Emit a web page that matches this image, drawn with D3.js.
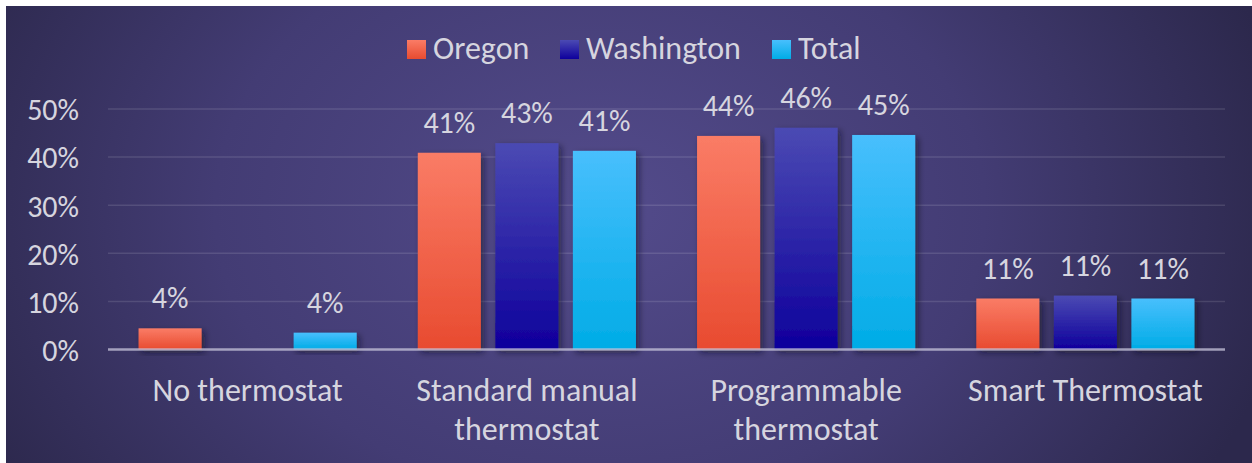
<!DOCTYPE html>
<html>
<head>
<meta charset="utf-8">
<script src="https://cdn.jsdelivr.net/npm/d3@7"></script>
<style>
  html, body { margin: 0; padding: 0; background: #ffffff; }
  svg { display: block; }
  text { font-family: Carlito, Lato, "Open Sans", sans-serif; fill: #d6d5df; }
</style>
</head>
<body>
<svg id="chart" width="1252" height="463"></svg>
<script>
// Thermostat type share by state (percent of homes)
const categories = ["No thermostat", "Standard manual thermostat", "Programmable thermostat", "Smart Thermostat"];
const categoryLines = [["No thermostat"], ["Standard manual", "thermostat"], ["Programmable", "thermostat"], ["Smart Thermostat"]];
const seriesNames = ["Oregon", "Washington", "Total"];
const oregon = [4.4, 40.9, 44.4, 10.6];
const washington = [null, 42.9, 46.1, 11.2];
const total = [3.5, 41.3, 44.6, 10.6];
const yTicks = [0, 10, 20, 30, 40, 50];

const seriesValues = [oregon, washington, total];
const gradStops = {
  Oregon: ["#fa7c66", "#e84b30"],
  Washington: ["#4b4ab3", "#0e009c"],
  Total: ["#48bffd", "#00ace6"]
};

const W = 1252, H = 463;
const svg = d3.select("#chart");
const defs = svg.append("defs");

// background radial glow
const bg = defs.append("radialGradient").attr("id", "bg")
  .attr("gradientUnits", "userSpaceOnUse")
  .attr("cx", 600).attr("cy", 210).attr("r", 700)
  .attr("gradientTransform", "translate(600,210) scale(1,0.75) translate(-600,-210)");
bg.append("stop").attr("offset", 0).attr("stop-color", "#534b8b");
bg.append("stop").attr("offset", 0.55).attr("stop-color", "#433c74");
bg.append("stop").attr("offset", 1).attr("stop-color", "#2c284c");

seriesNames.forEach((s, i) => {
  const g = defs.append("linearGradient").attr("id", "g" + i)
    .attr("x1", 0).attr("y1", 0).attr("x2", 0).attr("y2", 1);
  g.append("stop").attr("offset", 0).attr("stop-color", gradStops[s][0]);
  g.append("stop").attr("offset", 1).attr("stop-color", gradStops[s][1]);
});

const shadow = defs.append("filter").attr("id", "shadow")
  .attr("x", "-20%").attr("y", "-20%").attr("width", "150%").attr("height", "150%");
shadow.append("feDropShadow").attr("dx", 3).attr("dy", 3)
  .attr("stdDeviation", 3).attr("flood-color", "#0a0820").attr("flood-opacity", 0.55);

svg.append("rect").attr("x", 6).attr("y", 6).attr("width", W - 6).attr("height", H - 6)
  .attr("fill", "url(#bg)");

const plot = { left: 108, right: 1225, top: 109, bottom: 349.5 };

const x0 = d3.scaleBand().domain(categories).range([plot.left, plot.right]).padding(0);
const x1 = d3.scaleBand().domain(seriesNames).range([0, x0.bandwidth()])
  .paddingInner(0.187).paddingOuter(0.394);
const y = d3.scaleLinear().domain([0, 50]).range([plot.bottom, plot.top]);

// gridlines
svg.append("g").selectAll("line").data(yTicks.filter(t => t > 0)).join("line")
  .attr("x1", plot.left).attr("x2", plot.right)
  .attr("y1", d => y(d)).attr("y2", d => y(d))
  .attr("stroke", "#ffffff").attr("stroke-opacity", 0.12).attr("stroke-width", 1.5);

// y axis labels
const yAxis = d3.axisLeft(y).tickValues(yTicks).tickFormat(d => d + "%").tickSize(0).tickPadding(0);
const ya = svg.append("g").attr("transform", `translate(79,0)`).call(yAxis);
ya.select(".domain").remove();
ya.selectAll("text").attr("font-size", 30).attr("fill", "#d6d5df")
  .attr("font-family", "Carlito, Lato, 'Open Sans', sans-serif").attr("dy", "0.36em");

// bars
const groups = svg.append("g").selectAll("g").data(categories).join("g")
  .attr("transform", d => `translate(${x0(d)},0)`);

const barData = (c, ci) => seriesNames.map((s, si) => ({ s, si, v: seriesValues[si][ci] }))
  .filter(d => d.v != null);

groups.each(function (c, ci) {
  const g = d3.select(this);
  const data = barData(c, ci);
  g.selectAll("rect").data(data).join("rect")
    .attr("x", d => x1(d.s)).attr("width", x1.bandwidth())
    .attr("y", d => y(d.v)).attr("height", d => y(0) - y(d.v))
    .attr("fill", d => `url(#g${d.si})`).attr("filter", "url(#shadow)");
  g.selectAll("text.val").data(data).join("text").attr("class", "val")
    .attr("x", d => x1(d.s) + x1.bandwidth() / 2)
    .attr("y", d => y(d.v) - 20)
    .attr("text-anchor", "middle").attr("font-size", 30)
    .text(d => Math.round(d.v) + "%");
});

// baseline
svg.append("line").attr("x1", plot.left).attr("x2", plot.right)
  .attr("y1", y(0)).attr("y2", y(0))
  .attr("stroke", "#c8c6dc").attr("stroke-opacity", 0.75).attr("stroke-width", 2.5);

// category labels
const xa = svg.append("g");
categories.forEach((c, ci) => {
  const cx = x0(c) + x0.bandwidth() / 2;
  const t = xa.append("text").attr("text-anchor", "middle").attr("font-size", 32)
    .attr("x", cx).attr("y", 401);
  categoryLines[ci].forEach((ln, li) => {
    t.append("tspan").attr("x", cx).attr("dy", li === 0 ? 0 : 38.5).text(ln);
  });
});

// legend
const legendItems = [
  { s: "Oregon", x: 407 },
  { s: "Washington", x: 560 },
  { s: "Total", x: 772 }
];
const lg = svg.append("g");
legendItems.forEach((d, i) => {
  lg.append("rect").attr("x", d.x).attr("y", 40).attr("width", 19).attr("height", 19)
    .attr("fill", `url(#g${i})`);
  lg.append("text").attr("x", d.x + 26).attr("y", 59).attr("font-size", 32).text(d.s);
});
</script>
</body>
</html>
